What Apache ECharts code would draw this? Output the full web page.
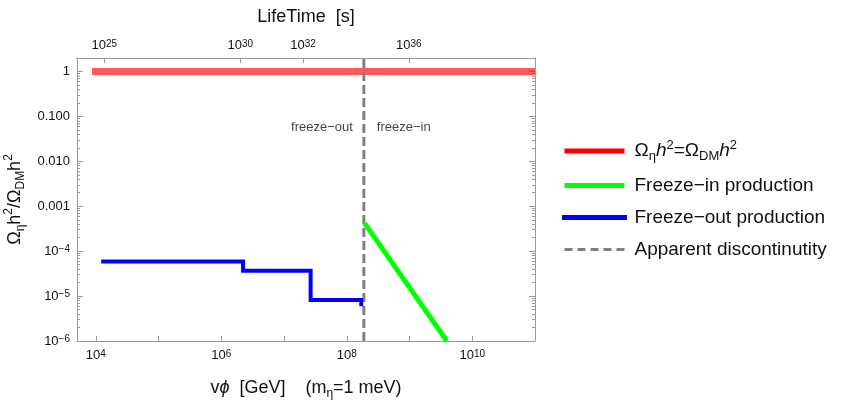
<!DOCTYPE html>
<html>
<head>
<meta charset="utf-8">
<script src="https://cdn.jsdelivr.net/npm/echarts@6/dist/echarts.min.js"></script>
<style>
  html, body { margin: 0; padding: 0; background: #fff; }
  #chart { width: 842px; height: 403px; }
</style>
</head>
<body>
<div id="chart"></div>
<script>
// axis ranges
var xMin = 5000, xMax = 1e11, yMin = 1e-6, yMax = 2;

// ticks
var xMajorTicks = [1e4, 1e5, 1e6, 1e7, 1e8, 1e9, 1e10];
var xLabelTicks = [1e4, 1e6, 1e8, 1e10];
var xLabelExp = ["4", "6", "8", "10"];
var lifeTickPos = [1.36e4, 2.01e6, 2.0e7, 9.75e8]; // v phi where lifetime tick sits
var lifeTickExp = ["25", "30", "32", "36"];
var yMajorTicks = [1e-6, 1e-5, 1e-4, 1e-3, 1e-2, 1e-1, 1];
var yLabelText = ["10{sup|\u22126}", "10{sup|\u22125}", "10{sup|\u22124}", "0.001", "0.010", "0.100", "1"];

// series values
var relicX = [8.7e3, 1e11];
var relicY = [1, 1];
var freezeInX = [1.92e8, 3.93e9];
var freezeInY = [4.2e-4, 1.0e-6];
var freezeOutX = [1.31e4, 2.22e6, 2.65e7, 1.70e8];
var freezeOutY = [5.9e-5, 3.65e-5, 8.2e-6, 6.6e-6];
var discX = [1.87e8, 1.87e8];
var discY = [1e-6, 2];
var noteX = [1.87e8, 1.87e8];
var noteY = [0.056, 0.056];
var noteText = ["freeze\u2212out", "freeze\u2212in"];

var FONT = "Liberation Sans, Arial, sans-serif";
var GREY = "#9a9a9a";
var INK = "#111";

var yMinorTicks = [];
yMajorTicks.forEach(function (d) {
  for (var k = 2; k <= 9; k++) {
    if (d * k <= yMax) yMinorTicks.push(d * k);
  }
});

var zip = function (xs, ys) {
  return xs.map(function (x, i) { return [x, ys[i]]; });
};
var findIdx = function (arr, v) {
  for (var i = 0; i < arr.length; i++) {
    if (Math.abs(Math.log10(arr[i]) - Math.log10(v)) < 1e-6) return i;
  }
  return -1;
};

var supRich = {
  sup: { fontSize: 10, fontFamily: FONT, color: INK, verticalAlign: "top", lineHeight: 10 }
};

var baseX = {
  type: "log", logBase: 10, min: xMin, max: xMax,
  splitLine: { show: false },
  axisLine: { show: true, lineStyle: { color: GREY, width: 1 } },
};
var baseY = {
  type: "log", logBase: 10, min: yMin, max: yMax,
  splitLine: { show: false },
  axisLine: { show: true, lineStyle: { color: GREY, width: 1 } },
};

var nameRich = {
  n: { fontSize: 18, fontFamily: FONT, color: INK, lineHeight: 24 },
  i: { fontSize: 18, fontFamily: FONT, color: INK, fontStyle: "italic", lineHeight: 24 },
  sub: { fontSize: 12, fontFamily: FONT, color: INK, verticalAlign: "bottom", lineHeight: 12 },
  sup: { fontSize: 12, fontFamily: FONT, color: INK, verticalAlign: "top", lineHeight: 12 },
};

var legendRich = {
  n: { fontSize: 19, fontFamily: FONT, color: INK, lineHeight: 24 },
  i: { fontSize: 19, fontFamily: FONT, color: INK, fontStyle: "italic", lineHeight: 24 },
  sub: { fontSize: 13, fontFamily: FONT, color: INK, verticalAlign: "bottom", lineHeight: 14 },
  sup: { fontSize: 13, fontFamily: FONT, color: INK, verticalAlign: "top", lineHeight: 14 },
};

var RELIC = "relic";
var option = {
  animation: false,
  backgroundColor: "#fff",
  grid: { left: 77, right: 307, top: 58, bottom: 62, outerBoundsMode: "none" },
  legend: {
    orient: "vertical",
    left: 562,
    top: 139,
    padding: 0,
    itemWidth: 60,
    itemHeight: 14,
    itemGap: 13,
    selectedMode: false,
    itemStyle: { opacity: 0 },
    textStyle: { rich: legendRich, padding: [0, 0, 0, 5] },
    formatter: function (name) {
      if (name === RELIC) return "{n|\u03a9}{sub|\u03b7}{i|h}{sup|2}{n|=\u03a9}{sub|DM}{i|h}{sup|2}";
      return "{n|" + name + "}";
    },
    data: [
      { name: RELIC, lineStyle: { color: "#ff0000", width: 5, opacity: 1 } },
      { name: "Freeze\u2212in production", lineStyle: { color: "#00ff00", width: 5 } },
      { name: "Freeze\u2212out production", lineStyle: { color: "#0000ff", width: 5 } },
      { name: "Apparent discontinutity", lineStyle: { color: "#808080", width: 3, type: [8, 5] } },
    ],
  },
  xAxis: [
    Object.assign({}, baseX, {
      position: "bottom",
      name: "{n|v}{i|\u03d5}{n|  [GeV]    (m}{sub|\u03b7}{n|=1 meV)}",
      nameLocation: "middle",
      nameGap: 35,
      nameTextStyle: { rich: nameRich },
      axisTick: { show: true, inside: true, length: 5, customValues: xMajorTicks, lineStyle: { color: GREY } },
      axisLabel: {
        customValues: xLabelTicks, margin: 8,
        fontSize: 13, fontFamily: FONT, color: INK, rich: supRich,
        formatter: function (v) { return "10{sup|" + xLabelExp[findIdx(xLabelTicks, v)] + "}"; },
      },
    }),
    Object.assign({}, baseX, {
      position: "top",
      name: "LifeTime  [s]",
      nameLocation: "middle",
      nameGap: 32,
      nameTextStyle: { fontSize: 18, fontFamily: FONT, color: INK },
      axisTick: { show: true, inside: true, length: 5, customValues: lifeTickPos, lineStyle: { color: GREY } },
      axisLabel: {
        customValues: lifeTickPos, margin: 6,
        fontSize: 13, fontFamily: FONT, color: INK, rich: supRich,
        formatter: function (v) { return "10{sup|" + lifeTickExp[findIdx(lifeTickPos, v)] + "}"; },
      },
    }),
  ],
  yAxis: [
    Object.assign({}, baseY, {
      position: "left",
      name: "{n|\u03a9}{sub|\u03b7}{n|h}{sup|2}{n|/\u03a9}{sub|DM}{n|h}{sup|2}",
      nameLocation: "middle",
      nameGap: 50,
      nameTextStyle: { rich: nameRich },
      axisTick: { show: true, inside: true, length: 6, customValues: yMajorTicks, lineStyle: { color: GREY } },
      axisLabel: {
        customValues: yMajorTicks, margin: 7,
        fontSize: 13, fontFamily: FONT, color: INK, rich: supRich,
        formatter: function (v) { return yLabelText[findIdx(yMajorTicks, v)]; },
      },
    }),
    Object.assign({}, baseY, {
      position: "left",
      axisLine: { show: false },
      axisTick: { show: true, inside: true, length: 3, customValues: yMinorTicks, lineStyle: { color: GREY } },
      axisLabel: { show: false },
    }),
    Object.assign({}, baseY, {
      position: "right",
      axisTick: { show: true, inside: true, length: 6, customValues: yMajorTicks, lineStyle: { color: GREY } },
      axisLabel: { show: false },
    }),
    Object.assign({}, baseY, {
      position: "right",
      axisLine: { show: false },
      axisTick: { show: true, inside: true, length: 3, customValues: yMinorTicks, lineStyle: { color: GREY } },
      axisLabel: { show: false },
    }),
  ],
  series: [
    {
      name: RELIC, type: "line", data: zip(relicX, relicY),
      symbol: "none", showSymbol: false, z: 1,
      lineStyle: { color: "rgba(255,0,0,0.65)", width: 7, cap: "butt" },
      itemStyle: { color: "#ff0000" },
    },
    {
      name: "Freeze\u2212in production", type: "line", data: zip(freezeInX, freezeInY),
      symbol: "none", showSymbol: false, z: 3,
      lineStyle: { color: "#00ff00", width: 5 },
      itemStyle: { color: "#00ff00" },
    },
    {
      name: "Freeze\u2212out production", type: "line", data: zip(freezeOutX, freezeOutY),
      step: "end", symbol: "none", showSymbol: false, z: 3,
      lineStyle: { color: "#0000ff", width: 4, join: "miter", cap: "square" },
      itemStyle: { color: "#0000ff" },
    },
    {
      name: "Apparent discontinutity", type: "line", data: zip(discX, discY),
      symbol: "none", showSymbol: false, z: 2,
      lineStyle: { color: "#808080", width: 3, type: [9, 4] },
      itemStyle: { color: "#808080" },
    },
    {
      name: "notes", type: "scatter", symbolSize: 0, silent: true,
      data: [
        { value: [noteX[0], noteY[0]], label: { show: true, position: "left", distance: 11, formatter: noteText[0] } },
        { value: [noteX[1], noteY[1]], label: { show: true, position: "right", distance: 13, formatter: noteText[1] } },
      ],
      label: { fontSize: 13, fontFamily: FONT, color: INK },
    },
  ],
};

var myChart = echarts.init(document.getElementById("chart"));
myChart.setOption(option);
</script>
</body>
</html>
